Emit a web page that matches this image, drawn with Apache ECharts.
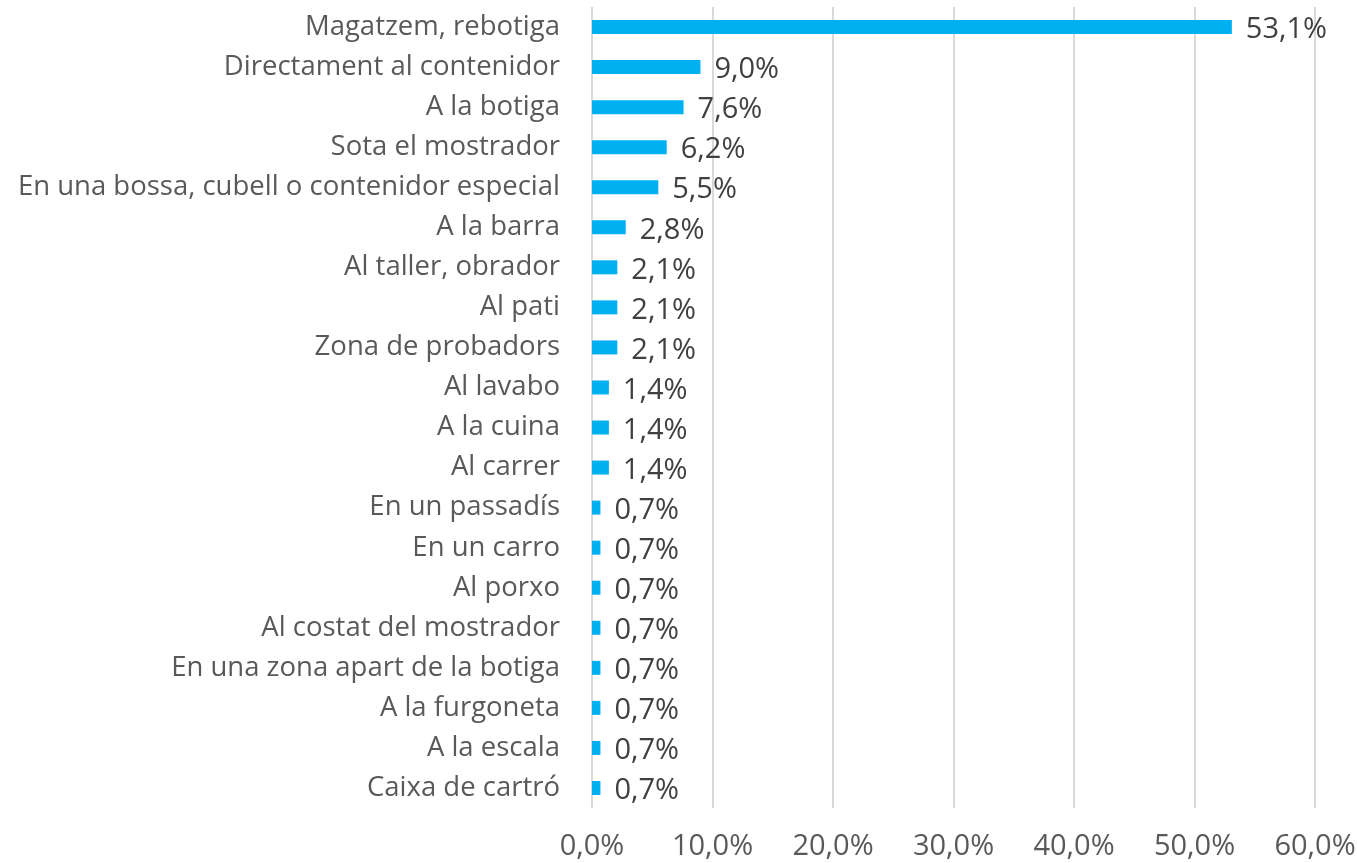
<!DOCTYPE html>
<html>
<head>
<meta charset="utf-8">
<script src="https://cdn.jsdelivr.net/npm/echarts@6/dist/echarts.min.js"></script>
<style>
  html, body { margin: 0; padding: 0; background: #fff; }
  #chart { width: 1357px; height: 863px; }
</style>
</head>
<body>
<div id="chart"></div>
<script>
// categories top to bottom, as in the picture
const categories = [
  'Magatzem, rebotiga',
  'Directament al contenidor',
  'A la botiga',
  'Sota el mostrador',
  'En una bossa, cubell o contenidor especial',
  'A la barra',
  'Al taller, obrador',
  'Al pati',
  'Zona de probadors',
  'Al lavabo',
  'A la cuina',
  'Al carrer',
  'En un passadís',
  'En un carro',
  'Al porxo',
  'Al costat del mostrador',
  'En una zona apart de la botiga',
  'A la furgoneta',
  'A la escala',
  'Caixa de cartró'
];
const values = [53.1, 9.0, 7.6, 6.2, 5.5, 2.8, 2.1, 2.1, 2.1, 1.4, 1.4, 1.4, 0.7, 0.7, 0.7, 0.7, 0.7, 0.7, 0.7, 0.7];
const xTicks = [0, 10, 20, 30, 40, 50, 60];

const fmt = v => v.toFixed(1).replace('.', ',') + '%';
const FONT = 'Open Sans';

const chart = echarts.init(document.getElementById('chart'));
chart.setOption({
  animation: false,
  grid: { left: 592, right: 42, top: 7, bottom: 55, containLabel: false, outerBoundsMode: 'none' },
  xAxis: {
    type: 'value',
    min: xTicks[0],
    max: xTicks[xTicks.length - 1],
    interval: 10,
    axisLine: { show: false },
    axisTick: { show: false },
    splitLine: { show: true, lineStyle: { color: '#d9d9d9', width: 2 } },
    axisLabel: {
      margin: 24,
      color: '#595959',
      fontSize: 29,
      fontFamily: FONT,
      formatter: v => fmt(v)
    }
  },
  yAxis: {
    type: 'category',
    data: categories,
    inverse: true,
    axisLine: { show: false },
    axisTick: { show: false },
    splitLine: { show: false },
    axisLabel: {
      margin: 32,
      color: '#595959',
      fontSize: 27.5,
      fontFamily: FONT
    }
  },
  series: [{
    type: 'bar',
    data: values,
    barWidth: 14,
    itemStyle: { color: '#00b0f0' },
    label: {
      show: true,
      position: 'right',
      distance: 14,
      offset: [0, 3],
      color: '#404040',
      fontSize: 29,
      fontFamily: FONT,
      formatter: p => fmt(p.value)
    }
  }]
});
</script>
</body>
</html>
